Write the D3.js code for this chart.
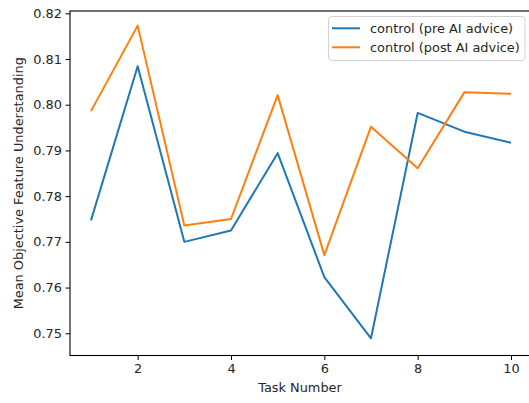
<!DOCTYPE html>
<html>
<head>
<meta charset="utf-8">
<script src="https://cdn.jsdelivr.net/npm/d3@7"></script>
<style>
  html, body { margin: 0; padding: 0; background: #fff; }
  svg { display: block; }
  text { font-family: "DejaVu Sans", sans-serif; fill: #262626; }
</style>
</head>
<body>
<svg id="chart" width="529" height="403"></svg>
<script>
const tasks = [1, 2, 3, 4, 5, 6, 7, 8, 9, 10];
const preAdvice = [0.7747, 0.8084, 0.7700, 0.7725, 0.7894, 0.7623, 0.7489, 0.7982, 0.7941, 0.7917];
const postAdvice = [0.7986, 0.8173, 0.7736, 0.7750, 0.8021, 0.7671, 0.7952, 0.7861, 0.8027, 0.8024];
const seriesNames = ["control (pre AI advice)", "control (post AI advice)"];
const seriesColors = ["#1f77b4", "#ff7f0e"];
const xTicks = [2, 4, 6, 8, 10];
const yTicks = [0.75, 0.76, 0.77, 0.78, 0.79, 0.80, 0.81, 0.82];
const xLabel = "Task Number";
const yLabel = "Mean Objective Feature Understanding";

(function () {
const svg = d3.select("#chart");
const pLeft = 70, pRight = 532, pTop = 11, pBottom = 355.5;
const fs = 12.9;

const x = d3.scaleLinear().domain([0.55, 10.45]).range([pLeft, pRight]);
const y = d3.scaleLinear().domain([0.74514, 0.82050]).range([pBottom, pTop]);

const series = [preAdvice, postAdvice];
const line = d3.line().x((d, i) => x(tasks[i])).y(d => y(d));

series.forEach((s, k) => {
  svg.append("path")
    .datum(s)
    .attr("fill", "none")
    .attr("stroke", seriesColors[k])
    .attr("stroke-width", 2)
    .attr("stroke-linejoin", "round")
    .attr("stroke-linecap", "butt")
    .attr("d", line);
});

const xAxis = d3.axisBottom(x).tickValues(xTicks).tickFormat(d3.format("d")).tickSize(4.5).tickPadding(4);
const gx = svg.append("g").attr("transform", `translate(0,${pBottom})`).call(xAxis);
const yAxis = d3.axisLeft(y).tickValues(yTicks).tickFormat(d3.format(".2f")).tickSize(4.5).tickPadding(3.5);
const gy = svg.append("g").attr("transform", `translate(${pLeft},0)`).call(yAxis);

[gx, gy].forEach(g => {
  g.select(".domain").remove();
  g.selectAll(".tick line").attr("stroke", "#000").attr("stroke-width", 1);
  g.selectAll(".tick text").attr("font-size", fs).attr("font-family", "DejaVu Sans, sans-serif").attr("fill", "#262626");
});

svg.append("rect")
  .attr("x", pLeft).attr("y", pTop)
  .attr("width", pRight - pLeft).attr("height", pBottom - pTop)
  .attr("fill", "none").attr("stroke", "#000").attr("stroke-width", 1.1);

svg.append("text")
  .attr("x", 300).attr("y", 392)
  .attr("text-anchor", "middle").attr("font-size", fs)
  .text(xLabel);

svg.append("text")
  .attr("transform", `translate(22.5,${(pTop + pBottom) / 2}) rotate(-90)`)
  .attr("text-anchor", "middle").attr("font-size", fs)
  .text(yLabel);

const lg = svg.append("g");
lg.append("rect")
  .attr("x", 328.5).attr("y", 16.5).attr("width", 196.5).attr("height", 44)
  .attr("rx", 3).attr("ry", 3)
  .attr("fill", "#fff").attr("fill-opacity", 0.8)
  .attr("stroke", "#d0d0d0").attr("stroke-width", 1);
seriesNames.forEach((name, k) => {
  const yy = 28.3 + k * 19;
  lg.append("line")
    .attr("x1", 332).attr("x2", 360).attr("y1", yy).attr("y2", yy)
    .attr("stroke", seriesColors[k]).attr("stroke-width", 2);
  lg.append("text")
    .attr("x", 370).attr("y", yy).attr("dy", "0.35em")
    .attr("font-size", fs).text(name);
});
})();
</script>
</body>
</html>
